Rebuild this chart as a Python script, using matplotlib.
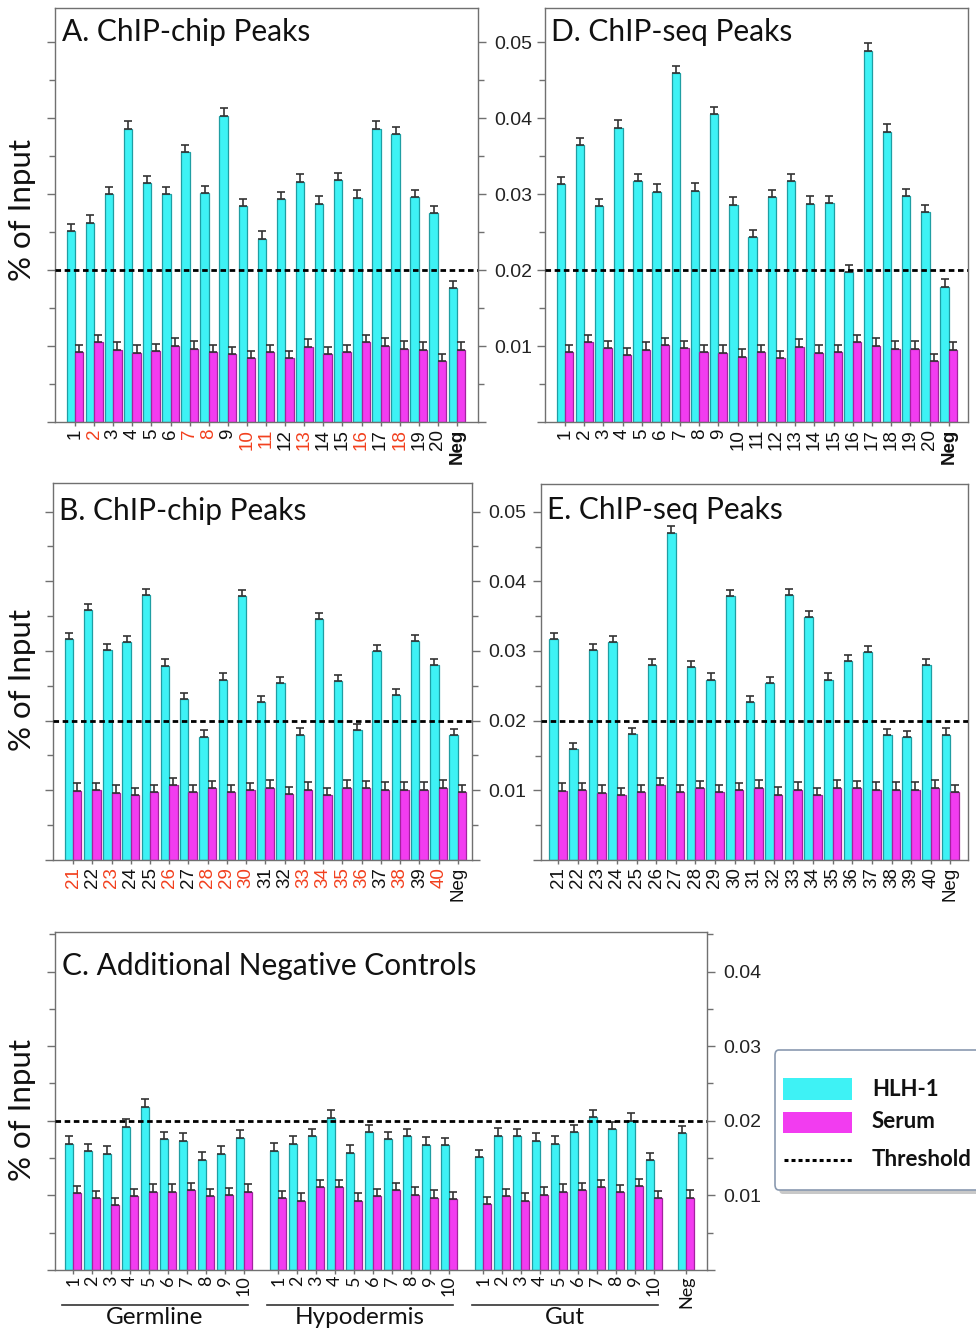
import matplotlib
matplotlib.use("Agg")
import matplotlib.pyplot as plt
from matplotlib.patches import Rectangle, FancyBboxPatch
from matplotlib.lines import Line2D
from matplotlib.ticker import MultipleLocator
import matplotlib.transforms as mtransforms
import numpy as np

# ---------------- data ----------------
labels_A = [str(i) for i in range(1, 21)] + ["Neg"]
red_A = ["2", "7", "8", "10", "11", "13", "16", "18"]
hlh_A = [0.0251, 0.0262, 0.0300, 0.0386, 0.0314, 0.0300, 0.0355, 0.0301, 0.0403, 0.0284,
         0.0241, 0.0293, 0.0316, 0.0287, 0.0318, 0.0295, 0.0386, 0.0379, 0.0296, 0.0275, 0.0176]
serum_A = [0.0092, 0.0105, 0.0095, 0.0091, 0.0093, 0.0100, 0.0096, 0.0092, 0.0089, 0.0084,
           0.0092, 0.0084, 0.0099, 0.0089, 0.0092, 0.0105, 0.0100, 0.0096, 0.0095, 0.0080, 0.0095]

labels_D = labels_A
hlh_D = [0.0313, 0.0364, 0.0284, 0.0387, 0.0317, 0.0303, 0.0459, 0.0304, 0.0405, 0.0286,
         0.0243, 0.0296, 0.0317, 0.0287, 0.0288, 0.0197, 0.0489, 0.0382, 0.0297, 0.0276, 0.0178]
serum_D = [0.0092, 0.0105, 0.0097, 0.0088, 0.0095, 0.0101, 0.0097, 0.0092, 0.0091, 0.0086,
           0.0092, 0.0084, 0.0099, 0.0091, 0.0092, 0.0105, 0.0100, 0.0096, 0.0096, 0.0080, 0.0095]

labels_B = [str(i) for i in range(21, 41)] + ["Neg"]
red_B = ["21", "23", "26", "28", "29", "30", "33", "34", "35", "36", "38", "40"]
hlh_B = [0.0317, 0.0359, 0.0301, 0.0313, 0.0380, 0.0279, 0.0231, 0.0177, 0.0259, 0.0379,
         0.0227, 0.0254, 0.0180, 0.0346, 0.0257, 0.0186, 0.0300, 0.0237, 0.0314, 0.0280, 0.0179]
serum_B = [0.0099, 0.0100, 0.0096, 0.0093, 0.0097, 0.0107, 0.0097, 0.0103, 0.0097, 0.0100,
           0.0104, 0.0094, 0.0101, 0.0093, 0.0104, 0.0103, 0.0101, 0.0101, 0.0101, 0.0104, 0.0097]

labels_E = labels_B
hlh_E = [0.0317, 0.0159, 0.0301, 0.0313, 0.0181, 0.0280, 0.0470, 0.0277, 0.0259, 0.0379,
         0.0227, 0.0254, 0.0380, 0.0349, 0.0259, 0.0286, 0.0299, 0.0179, 0.0176, 0.0280, 0.0180]
serum_E = [0.0099, 0.0100, 0.0096, 0.0093, 0.0097, 0.0107, 0.0097, 0.0103, 0.0097, 0.0100,
           0.0104, 0.0094, 0.0101, 0.0093, 0.0104, 0.0103, 0.0101, 0.0101, 0.0101, 0.0104, 0.0097]

groups_C = ["Germline", "Hypodermis", "Gut"]
labels_C_group = [str(i) for i in range(1, 11)]
hlh_C_germ = [0.0169, 0.0159, 0.0156, 0.0192, 0.0219, 0.0175, 0.0173, 0.0148, 0.0156, 0.0177]
serum_C_germ = [0.0103, 0.0096, 0.0087, 0.0099, 0.0105, 0.0105, 0.0107, 0.0099, 0.0100, 0.0105]
hlh_C_hyp = [0.0160, 0.0169, 0.0179, 0.0204, 0.0157, 0.0185, 0.0175, 0.0179, 0.0168, 0.0167]
serum_C_hyp = [0.0096, 0.0093, 0.0111, 0.0111, 0.0093, 0.0099, 0.0107, 0.0101, 0.0097, 0.0095]
hlh_C_gut = [0.0151, 0.0180, 0.0179, 0.0173, 0.0169, 0.0185, 0.0205, 0.0189, 0.0200, 0.0147]
serum_C_gut = [0.0088, 0.0099, 0.0093, 0.0101, 0.0105, 0.0107, 0.0111, 0.0104, 0.0112, 0.0096]
hlh_C_neg = 0.0183
serum_C_neg = 0.0097

err_hlh_AD = 0.0010
err_serum_AD = 0.0010
err_hlh_BE = 0.0009
err_serum_BE = 0.0011
err_hlh_C = 0.0010
err_serum_C = 0.0010

threshold = 0.02

# ---------------- style ----------------
CYAN = "#3ef2f5"
CYAN_EDGE = "#1f9ea3"
MAG = "#f23cf0"
MAG_EDGE = "#a3239f"
RED = "#f2401e"
SPINE = "#707070"
W = 976
H = 1332
TICKFONT = "Liberation Sans"
HUMAN = "Lato"

fig = plt.figure(figsize=(W / 100, H / 100), dpi=100)


def px_axes(l, t, r, b):
    return fig.add_axes([l / W, 1 - b / H, (r - l) / W, (b - t) / H])


def style_axes(ax, ymax, right_labels=True):
    ax.set_ylim(0, ymax)
    for s in ax.spines.values():
        s.set_color(SPINE)
        s.set_linewidth(1.0)
    ax.yaxis.set_major_locator(MultipleLocator(0.01))
    ax.yaxis.set_minor_locator(MultipleLocator(0.005))
    ax.tick_params(axis="y", which="both", left=True, right=True, direction="out",
                   color=SPINE, labelleft=False, labelright=right_labels)
    ax.tick_params(axis="y", which="major", length=5.5, width=1, pad=6,
                   labelsize=14, labelcolor="#222222")
    ax.tick_params(axis="y", which="minor", length=4, width=1)
    ax.tick_params(axis="x", which="major", length=3, width=1, color=SPINE,
                   direction="out", pad=2)
    for t in ax.get_yticklabels():
        t.set_family(TICKFONT)
    ax.yaxis.set_major_formatter(matplotlib.ticker.FuncFormatter(
        lambda v, p: "" if v < 0.005 else f"{v:.2f}"))
    ax.axhline(threshold, color="black", lw=2.0, ls=(0, (2.0, 1.3)), zorder=4)


def draw_bars(ax, xs, hlh, serum, eh, es, w=0.44):
    xs = np.asarray(xs, dtype=float)
    n = len(xs)
    ax.bar(xs - w / 2, hlh, width=w, color=CYAN, edgecolor=CYAN_EDGE, linewidth=0.9,
           yerr=[np.zeros(n), np.full(n, eh)], capsize=3.2,
           error_kw=dict(ecolor="#333333", elinewidth=1.2, capthick=1.2), zorder=2)
    ax.bar(xs + w / 2, serum, width=w, color=MAG, edgecolor=MAG_EDGE, linewidth=0.9,
           yerr=[np.zeros(n), np.full(n, es)], capsize=3.2,
           error_kw=dict(ecolor="#333333", elinewidth=1.2, capthick=1.2), zorder=2)


def set_xlabels(ax, xs, labels, reds, bold_neg, size=13.5, family=TICKFONT):
    ax.set_xticks(xs)
    ax.set_xticklabels(labels, rotation=90, fontsize=size, family=family)
    for t, lab in zip(ax.get_xticklabels(), labels):
        t.set_color(RED if lab in reds else "#111111")
        if lab == "Neg" and bold_neg:
            t.set_fontweight("bold")


def title(ax, txt, x, y):
    ax.text(x, y, txt, transform=ax.transAxes, fontsize=21.5, family=HUMAN,
            va="baseline", ha="left", color="#111111", zorder=5)


# ---------------- panel A ----------------
axA = px_axes(55, 8, 478, 422)
xA = np.arange(len(labels_A))
draw_bars(axA, xA, hlh_A, serum_A, err_hlh_AD, err_serum_AD)
style_axes(axA, 0.0545)
axA.set_xlim(-1.05, 21.1)
set_xlabels(axA, xA, labels_A, red_A, True)
title(axA, "A. ChIP-chip Peaks", 0.017, 0.92)

# ---------------- panel D ----------------
axD = px_axes(545, 8, 968, 422)
xD = np.arange(len(labels_D))
draw_bars(axD, xD, hlh_D, serum_D, err_hlh_AD, err_serum_AD)
style_axes(axD, 0.0545, right_labels=False)
axD.tick_params(axis="y", which="both", right=False)
axD.set_xlim(-1.04, 21.0)
set_xlabels(axD, xD, labels_D, [], True)
title(axD, "D. ChIP-seq Peaks", 0.014, 0.92)

# ---------------- panel B ----------------
axB = px_axes(53, 483, 472, 860)
xB = np.arange(len(labels_B))
draw_bars(axB, xB, hlh_B, serum_B, err_hlh_BE, err_serum_BE)
style_axes(axB, 0.0541)
axB.set_xlim(-1.04, 20.73)
set_xlabels(axB, xB, labels_B, red_B, False)
title(axB, "B. ChIP-chip Peaks", 0.014, 0.902)

# ---------------- panel E ----------------
axE = px_axes(541, 484, 968, 860)
xE = np.arange(len(labels_E))
draw_bars(axE, xE, hlh_E, serum_E, err_hlh_BE, err_serum_BE)
style_axes(axE, 0.0540, right_labels=False)
axE.tick_params(axis="y", which="both", right=False)
axE.set_xlim(-0.87, 20.9)
set_xlabels(axE, xE, labels_E, [], False)
title(axE, "E. ChIP-seq Peaks", 0.014, 0.907)

# ---------------- panel C ----------------
axC = px_axes(55, 932, 707, 1270)
starts_C = [0.0, 10.8, 21.6]
x_neg_C = 32.3
hlh_groups = [hlh_C_germ, hlh_C_hyp, hlh_C_gut]
serum_groups = [serum_C_germ, serum_C_hyp, serum_C_gut]
xs_all, labs_all = [], []
for s, hh, ss in zip(starts_C, hlh_groups, serum_groups):
    xs = s + np.arange(len(hh))
    draw_bars(axC, xs, hh, ss, err_hlh_C, err_serum_C)
    xs_all.extend(xs)
    labs_all.extend(labels_C_group)
draw_bars(axC, [x_neg_C], [hlh_C_neg], [serum_C_neg], err_hlh_C, err_serum_C)
xs_all.append(x_neg_C)
labs_all.append("Neg")
style_axes(axC, 0.0453)
axC.set_xlim(-0.95, 33.4)
set_xlabels(axC, xs_all, labs_all, [], False, size=13, family=HUMAN)
axC.tick_params(axis="x", pad=1)
title(axC, "C. Additional Negative Controls", 0.011, 0.873)

trC = mtransforms.blended_transform_factory(axC.transData, axC.transAxes)
for s, name in zip(starts_C, groups_C):
    axC.add_line(Line2D([s - 0.6, s + 9.2], [-0.104, -0.104], transform=trC,
                        color="#333333", lw=1.2, clip_on=False))
    axC.text(s + 4.3, -0.110, name, transform=trC, ha="center", va="top",
             fontsize=17.5, family=HUMAN, color="#111111")

# ---------------- y labels ----------------
for yc in (210, 680, 1110):
    fig.text(22 / W, 1 - yc / H, "% of Input", rotation=90, ha="center", va="center",
             fontsize=22.5, family=HUMAN, color="#111111")

# ---------------- legend ----------------
def fx(p):
    return p / W


def fy(p):
    return 1 - p / H


shadow = FancyBboxPatch((fx(779), fy(1194)), fx(260), 144 / H,
                        boxstyle="round,pad=0,rounding_size=0.004",
                        transform=fig.transFigure, facecolor="#c8c8c8",
                        edgecolor="none", zorder=1)
box = FancyBboxPatch((fx(775), fy(1190)), fx(260), 140 / H,
                     boxstyle="round,pad=0,rounding_size=0.004",
                     transform=fig.transFigure, facecolor="white",
                     edgecolor="#8a9ab0", lw=1.2, zorder=2)
fig.add_artist(shadow)
fig.add_artist(box)
fig.add_artist(Rectangle((fx(783), fy(1100)), fx(69), 22 / H, transform=fig.transFigure,
                         facecolor=CYAN, edgecolor="none", zorder=3))
fig.add_artist(Rectangle((fx(783), fy(1133)), fx(69), 21 / H, transform=fig.transFigure,
                         facecolor=MAG, edgecolor="none", zorder=3))
fig.add_artist(Line2D([fx(784), fx(852)], [fy(1160), fy(1160)], transform=fig.transFigure,
                      color="black", lw=2.2, ls=(0, (1.3, 1.0)), zorder=3))
for txt, yy in (("HLH-1", 1089), ("Serum", 1121), ("Threshold", 1160)):
    fig.text(fx(872), fy(yy), txt, ha="left", va="center", fontsize=16,
             fontweight="bold", family=HUMAN, color="#111111", zorder=4)

fig.savefig("out.png", dpi=100)
